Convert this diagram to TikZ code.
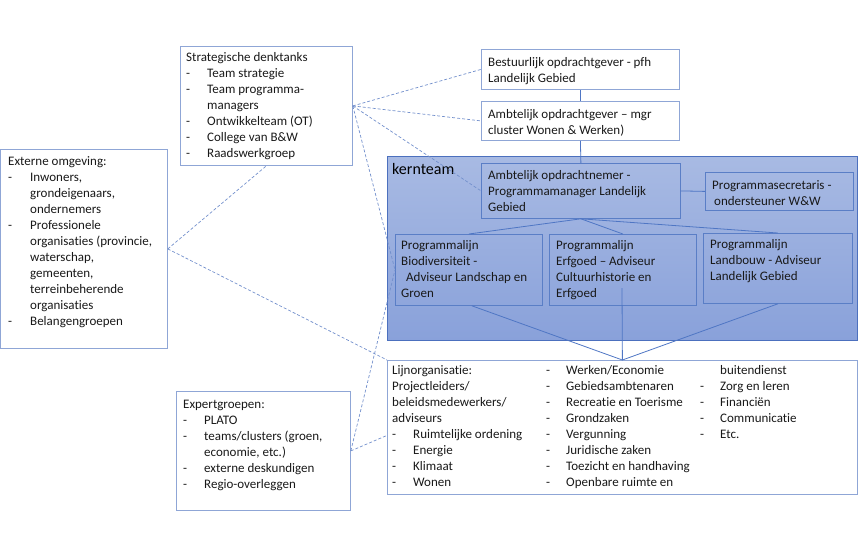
\documentclass[tikz,border=0pt]{standalone}
\usepackage{fontspec}
\setmainfont[Ligatures={TeX,NoCommon}]{Carlito}
\definecolor{boxc}{HTML}{8FA6D6}
\definecolor{innc}{HTML}{5A7EC6}
\definecolor{linc}{HTML}{4F76C4}
\definecolor{dshc}{HTML}{7390CC}
\definecolor{ktop}{HTML}{A8BAE3}
\definecolor{kbot}{HTML}{89A1DA}
\definecolor{kbrd}{HTML}{4C70BE}
\newcommand\dl[1]{\makebox[21pt][l]{-}#1}
\newcommand\dm[1]{\makebox[20pt][l]{-}#1}
\newcommand\cl[1]{\hspace*{21pt}#1}
\begin{document}
\begin{tikzpicture}[x=1pt,y=-1pt,
  box/.style={draw=boxc, line width=0.8pt, fill=white, inner sep=0, anchor=north west},
  inbox/.style={draw=innc, line width=0.8pt, inner sep=0, anchor=north west},
  txt/.style={anchor=north west, inner sep=0, font=\fontsize{13}{16}\selectfont, text=black!90},
  dsh/.style={draw=dshc, line width=0.7pt, dash pattern=on 3pt off 2pt},
  sol/.style={draw=linc, line width=0.8pt}]
\useasboundingbox (0,0) rectangle (863,555);

% kernteam area
\node[draw=kbrd, line width=0.8pt, top color=ktop, bottom color=kbot, inner sep=0, anchor=north west,
  minimum width=470pt, minimum height=184pt] (kern) at (387,156) {};
\node[anchor=north west, inner sep=0, font=\fontsize{16}{19}\selectfont] (kernl) at (392,163) {kernteam};

% boxes
\node[box, minimum width=172pt, minimum height=119pt] (strat) at (180,46) {};
\node[box, minimum width=167pt, minimum height=199pt] (ext) at (0,149) {};
\node[box, minimum width=198pt, minimum height=40pt] (best) at (481,49) {};
\node[box, minimum width=198pt, minimum height=39pt] (ambog) at (481,101) {};
\node[inbox, minimum width=199pt, minimum height=55pt] (ambon) at (481,163) {};
\node[inbox, minimum width=148pt, minimum height=38pt] (sec) at (705,172) {};
\node[inbox, minimum width=147pt, minimum height=71pt] (bio) at (395,234) {};
\node[inbox, minimum width=147pt, minimum height=71pt] (erf) at (549,234) {};
\node[inbox, minimum width=149pt, minimum height=70pt] (land) at (703,233) {};
\node[box, minimum width=470pt, minimum height=134pt] (lijn) at (387,360) {};
\node[box, minimum width=174pt, minimum height=119pt] (exp) at (176,391) {};

% texts
\node[txt] (stratt) at (186,50) {\begin{tabular}{@{}l@{}}
Strategische denktanks\\
\dl{Team strategie}\\
\dl{Team programma-}\\
\cl{managers}\\
\dl{Ontwikkelteam (OT)}\\
\dl{College van B\&W}\\
\dl{Raadswerkgroep}
\end{tabular}};
\node[txt] (extt) at (8,154) {\begin{tabular}{@{}l@{}}
Externe omgeving:\\
\makebox[22pt][l]{-}Inwoners,\\
\hspace*{22pt}grondeigenaars,\\
\hspace*{22pt}ondernemers\\
\makebox[22pt][l]{-}Professionele\\
\hspace*{22pt}organisaties (provincie,\\
\hspace*{22pt}waterschap,\\
\hspace*{22pt}gemeenten,\\
\hspace*{22pt}terreinbeherende\\
\hspace*{22pt}organisaties\\
\makebox[22pt][l]{-}Belangengroepen
\end{tabular}};
\node[txt] (bestt) at (488,55) {\begin{tabular}{@{}l@{}}
Bestuurlijk opdrachtgever - pfh\\
Landelijk Gebied
\end{tabular}};
\node[txt] (ambogt) at (488,107) {\begin{tabular}{@{}l@{}}
Ambtelijk opdrachtgever – mgr\\
cluster Wonen \& Werken)
\end{tabular}};
\node[txt] (ambont) at (488,168) {\begin{tabular}{@{}l@{}}
Ambtelijk opdrachtnemer -\\
Programmamanager Landelijk\\
Gebied
\end{tabular}};
\node[txt] (sect) at (712,178) {\begin{tabular}{@{}l@{}}
Programmasecretaris -\\
\hspace*{2pt}ondersteuner W\&W
\end{tabular}};
\node[txt] (biot) at (401,238) {\begin{tabular}{@{}l@{}}
Programmalijn\\
Biodiversiteit -\\
\hspace*{5pt}Adviseur Landschap en\\
Groen
\end{tabular}};
\node[txt] (erft) at (556,238) {\begin{tabular}{@{}l@{}}
Programmalijn\\
Erfgoed – Adviseur\\
Cultuurhistorie en\\
Erfgoed
\end{tabular}};
\node[txt] (landt) at (710,237) {\begin{tabular}{@{}l@{}}
Programmalijn\\
Landbouw - Adviseur\\
Landelijk Gebied
\end{tabular}};
\node[txt] (lijn1) at (392,363) {\begin{tabular}{@{}l@{}}
Lijnorganisatie:\\
Projectleiders/\\
beleidsmedewerkers/\\
adviseurs\\
\dl{Ruimtelijke ordening}\\
\dl{Energie}\\
\dl{Klimaat}\\
\dl{Wonen}
\end{tabular}};
\node[txt] (lijn2) at (546,363) {\begin{tabular}{@{}l@{}}
\dm{Werken/Economie}\\
\dm{Gebiedsambtenaren}\\
\dm{Recreatie en Toerisme}\\
\dm{Grondzaken}\\
\dm{Vergunning}\\
\dm{Juridische zaken}\\
\dm{Toezicht en handhaving}\\
\dm{Openbare ruimte en}
\end{tabular}};
\node[txt] (lijn3) at (700,363) {\begin{tabular}{@{}l@{}}
\hspace*{20pt}buitendienst\\
\dm{Zorg en leren}\\
\dm{Financiën}\\
\dm{Communicatie}\\
\dm{Etc.}
\end{tabular}};
\node[txt] (expt) at (183,397) {\begin{tabular}{@{}l@{}}
Expertgroepen:\\
\dl{PLATO}\\
\dl{teams/clusters (groen,}\\
\cl{economie, etc.)}\\
\dl{externe deskundigen}\\
\dl{Regio-overleggen}
\end{tabular}};

% solid connectors
\draw[sol] (best.south) -- (ambog.north);
\draw[sol] (ambog.south) -- (ambon.north);
\draw[sol] (ambon.east) -- (sec.west);
\draw[sol] (ambon.south) -- (bio.north);
\draw[sol] (ambon.south) -- (erf.north);
\draw[sol] (ambon.south) -- (land.north);
\coordinate (erfl) at (622,288);
\draw[sol] ([xshift=3pt]bio.south) -- (lijn.north);
\draw[sol] (erfl) -- (lijn.north);
\draw[sol] (land.south) -- (lijn.north);

% dashed connectors
\draw[dsh] (strat.east) -- (best.west);
\draw[dsh] (strat.east) -- (ambog.west);
\draw[dsh] (strat.east) -- (ambon.west);
\draw[dsh] (strat.east) -- (bio.west);
\draw[dsh] (ext.east) -- (strat.south);
\draw[dsh] (ext.east) -- (lijn.north west);
\draw[dsh] (exp.east) -- (bio.west);
\draw[dsh] (exp.east) -- ([yshift=-8pt]lijn.west);
\end{tikzpicture}
\end{document}
